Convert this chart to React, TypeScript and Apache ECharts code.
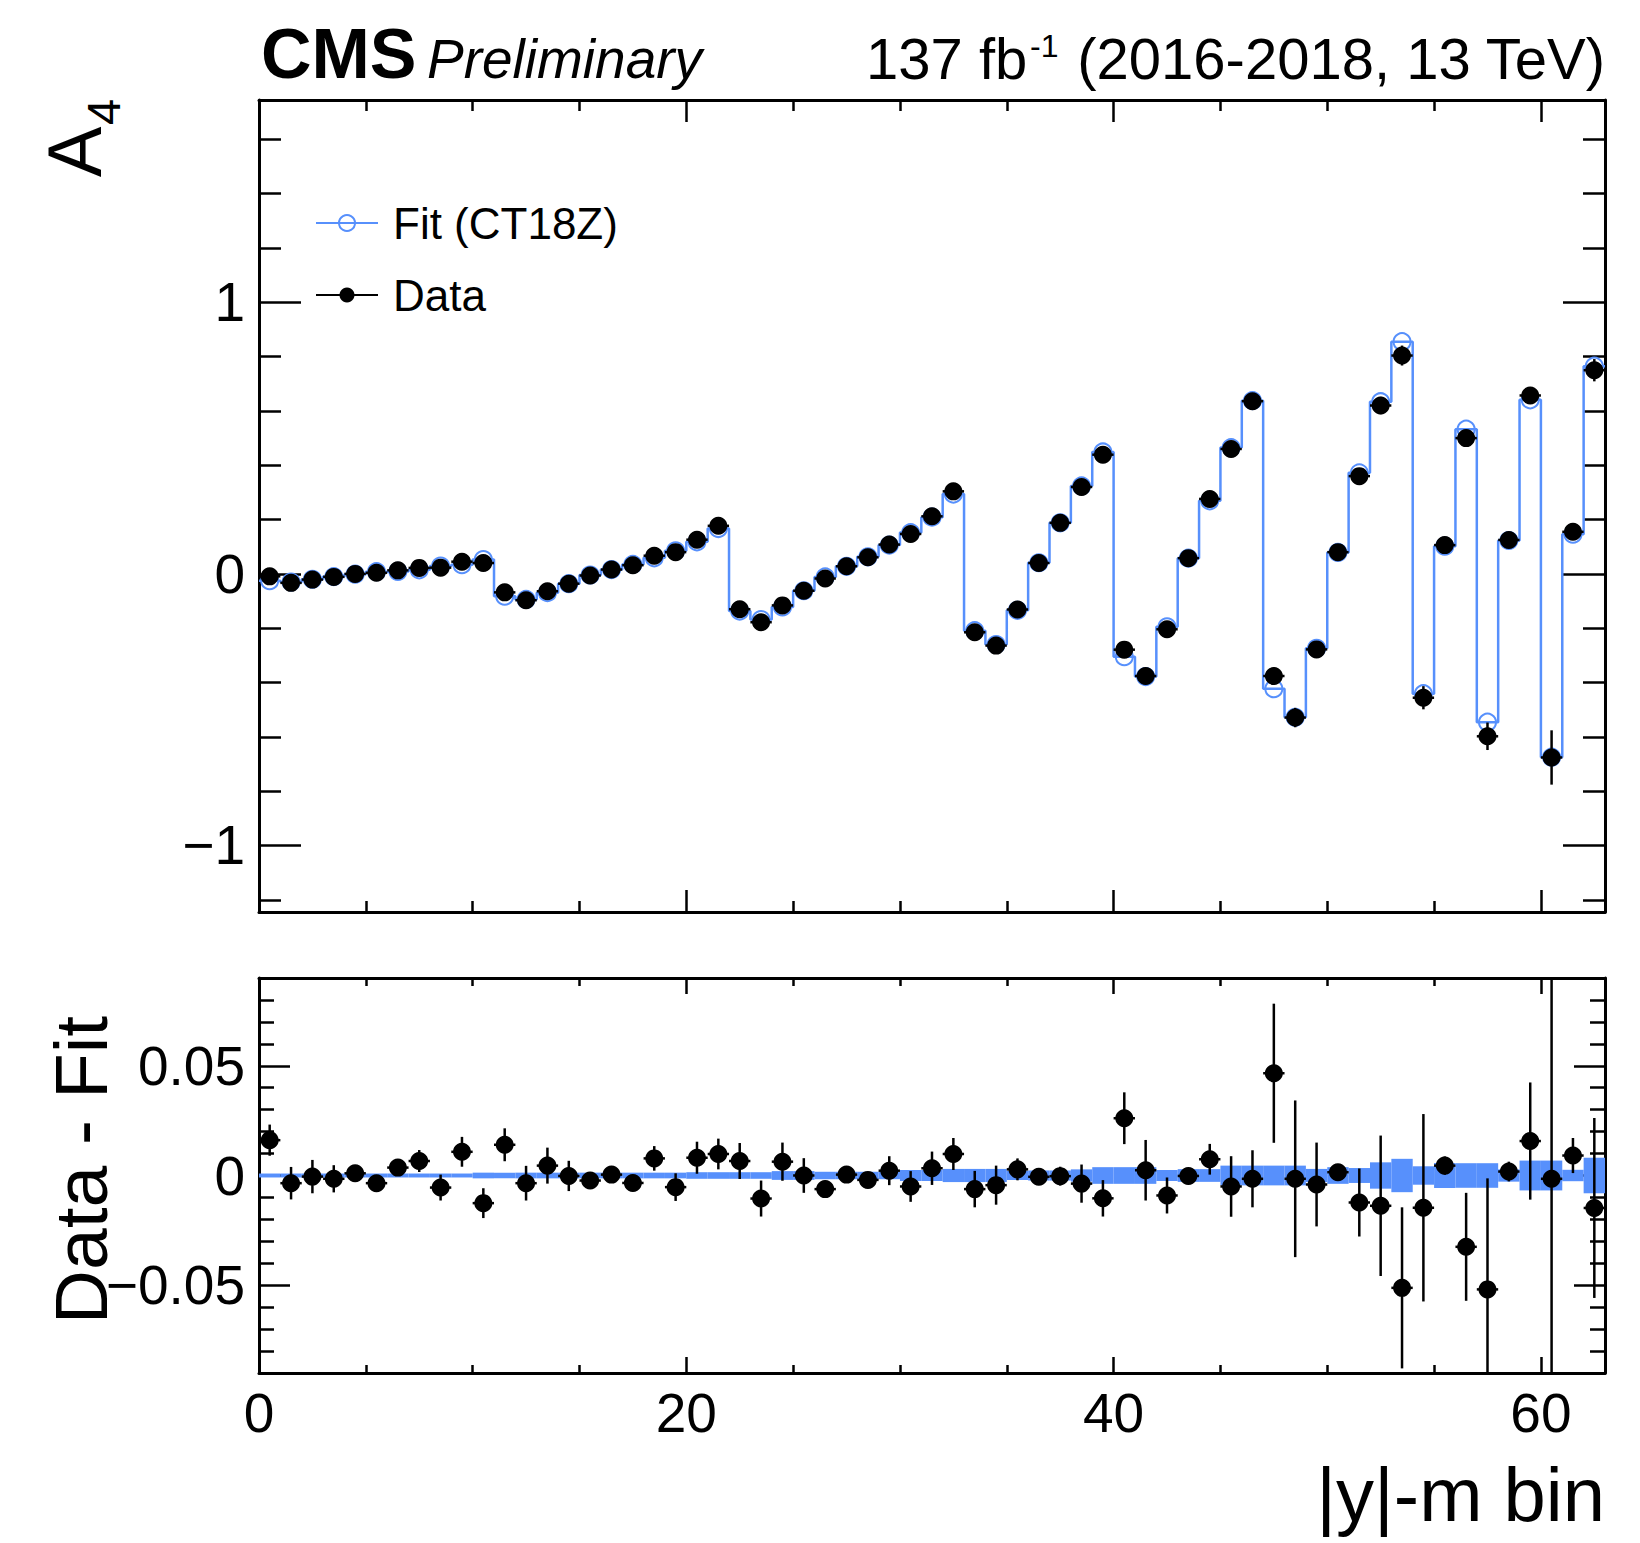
import React, { useEffect, useRef } from "react";
import * as echarts from "echarts";

// ---------- data ----------
// A4 measured per |y|-m bin (bins 0..62)
const a4Data = [
  -0.009, -0.033, -0.021, -0.011, 0.0, 0.004, 0.013, 0.022, 0.023, 0.045,
  0.04, -0.068, -0.097, -0.064, -0.036, -0.006, 0.016, 0.032, 0.067, 0.08,
  0.126, 0.177, -0.13, -0.178, -0.116, -0.062, -0.017, 0.028, 0.061, 0.108,
  0.147, 0.212, 0.304, -0.215, -0.264, -0.131, 0.04, 0.188, 0.32, 0.439,
  -0.279, -0.376, -0.204, 0.058, 0.276, 0.46, 0.636, -0.376, -0.529, -0.278,
  0.08, 0.36, 0.62, 0.804, -0.456, 0.106, 0.5, -0.598, 0.125, 0.657,
  -0.676, 0.155, 0.75,
];
// A4 fit (CT18Z) per bin
const a4Fit = [
  -0.025, -0.03, -0.02, -0.01, -0.001, 0.008, 0.009, 0.015, 0.029, 0.034,
  0.053, -0.082, -0.094, -0.069, -0.036, -0.004, 0.016, 0.035, 0.059, 0.085,
  0.118, 0.167, -0.137, -0.168, -0.122, -0.062, -0.011, 0.028, 0.063, 0.106,
  0.152, 0.209, 0.294, -0.209, -0.26, -0.134, 0.041, 0.188, 0.324, 0.449,
  -0.305, -0.378, -0.195, 0.058, 0.269, 0.465, 0.638, -0.423, -0.528, -0.274,
  0.079, 0.372, 0.634, 0.855, -0.441, 0.102, 0.533, -0.546, 0.123, 0.641,
  -0.675, 0.146, 0.765,
];
// statistical uncertainty of data per bin
const a4Err = [
  0.0071, 0.0074, 0.0076, 0.0062, 0.003, 0.003, 0.0033, 0.005, 0.0059, 0.0068,
  0.0068, 0.0075, 0.0079, 0.0082, 0.0069, 0.0034, 0.003, 0.003, 0.0056, 0.0063,
  0.0073, 0.007, 0.0082, 0.0082, 0.0087, 0.0079, 0.0038, 0.002, 0.003, 0.0066,
  0.007, 0.0076, 0.0073, 0.0083, 0.0089, 0.005, 0.002, 0.0043, 0.0087, 0.0083,
  0.0118, 0.0138, 0.0082, 0.002, 0.007, 0.0138, 0.013, 0.0317, 0.0357, 0.0191,
  0.002, 0.0155, 0.032, 0.0367, 0.0427, 0.0042, 0.0246, 0.0506, 0.0045, 0.0267,
  0.1, 0.008, 0.041,
];
// Data - Fit per bin
const residData = [
  0.0161, -0.0035, -0.0005, -0.0015, 0.001, -0.0035, 0.0036, 0.0066, -0.0055, 0.0108,
  -0.0126, 0.014, -0.0035, 0.0045, -0.0002, -0.0023, 0.0004, -0.0034, 0.0078, -0.0053,
  0.0081, 0.0098, 0.0066, -0.0105, 0.0063, 0.0, -0.0062, 0.0004, -0.002, 0.0022,
  -0.005, 0.0033, 0.0098, -0.0062, -0.0044, 0.0028, -0.0006, -0.0003, -0.0037, -0.0104,
  0.0261, 0.0024, -0.0091, -0.0002, 0.0074, -0.005, -0.0015, 0.0466, -0.0015, -0.0041,
  0.0015, -0.0123, -0.0138, -0.0512, -0.0147, 0.0045, -0.0325, -0.0519, 0.0018, 0.0157,
  -0.0015, 0.0091, -0.0148,
];
// half width of the fit uncertainty band in the ratio panel
const fitBandHalf = [
  0.0009, 0.0009, 0.0009, 0.0009, 0.0009, 0.0009, 0.0009, 0.0009, 0.0009, 0.0009,
  0.0013, 0.0013, 0.0013, 0.0013, 0.0013, 0.0013, 0.0013, 0.0013, 0.0013, 0.0013,
  0.0015, 0.0015, 0.0015, 0.0015, 0.002, 0.002, 0.0017, 0.0017, 0.0017, 0.0017,
  0.0025, 0.0025, 0.003, 0.003, 0.003, 0.0021, 0.0023, 0.0023, 0.0028, 0.0038,
  0.0038, 0.0038, 0.0025, 0.0029, 0.0029, 0.0045, 0.0045, 0.0045, 0.0045, 0.003,
  0.0038, 0.0034, 0.006, 0.0076, 0.0042, 0.0057, 0.0056, 0.0056, 0.0028, 0.0068,
  0.0068, 0.0026, 0.0081,
];

// ticks
const xMajorTicks = [0, 20, 40, 60];
const xMinorTicks = [5, 10, 15, 25, 30, 35, 45, 50, 55];
const topYMajorTicks = [-1, 0, 1];
const topYMinorTicks = [-1.2, -0.8, -0.6, -0.4, -0.2, 0.2, 0.4, 0.6, 0.8, 1.2, 1.4, 1.6];
const botYMajorTicks = [-0.05, 0, 0.05];
const botYMinorTicks = [
  -0.08, -0.07, -0.06, -0.04, -0.03, -0.02, -0.01, 0.01, 0.02, 0.03, 0.04, 0.06, 0.07, 0.08,
];

const X_RANGE = [0, 63];
const TOP_Y_RANGE = [-1.245, 1.745];
const BOT_Y_RANGE = [-0.09, 0.09];

const BLUE = "#5790fc";
const FONT = "'Liberation Sans', Arial, Helvetica, sans-serif";

const fmt = (v: any) => {
  const n = Number(v);
  if (Math.abs(n) < 1e-12) return "0";
  return n < 0 ? "\u2212" + String(Math.abs(n)) : String(n);
};

function mkAxis(
  gridIndex: number,
  position: string,
  range: number[],
  ticks: number[],
  len: number,
  showLine: boolean,
  labels: boolean,
  labelMargin = 14
) {
  return {
    type: "value",
    gridIndex,
    position,
    min: range[0],
    max: range[1],
    axisLine: { show: showLine, onZero: false, lineStyle: { color: "#000", width: 3 } },
    axisTick: {
      show: true,
      inside: true,
      length: len,
      customValues: ticks,
      lineStyle: { color: "#000", width: 2.5 },
    },
    axisLabel: labels
      ? {
          show: true,
          customValues: ticks,
          formatter: fmt,
          fontSize: 55,
          fontFamily: FONT,
          color: "#000",
          margin: labelMargin,
        }
      : { show: false },
    splitLine: { show: false },
    minorTick: { show: false },
    minorSplitLine: { show: false },
  };
}

function errorBarRenderer(yRange: number[]) {
  return (params: any, api: any) => {
    const i = api.value(0);
    const v = api.value(1);
    const e = api.value(2);
    const lo = Math.max(v - e, yRange[0]);
    const hi = Math.min(v + e, yRange[1]);
    const pLo = api.coord([i + 0.5, lo]);
    const pHi = api.coord([i + 0.5, hi]);
    const pL = api.coord([i, v]);
    const pR = api.coord([i + 1, v]);
    return {
      type: "group",
      children: [
        {
          type: "line",
          shape: { x1: pLo[0], y1: pLo[1], x2: pHi[0], y2: pHi[1] },
          style: { stroke: "#000", lineWidth: 2.5 },
        },
        {
          type: "line",
          shape: { x1: pL[0], y1: pL[1], x2: pR[0], y2: pR[1] },
          style: { stroke: "#000", lineWidth: 2.5 },
        },
      ],
    };
  };
}

function txt(
  text: string,
  x: number,
  y: number,
  size: number,
  align: string,
  extra: any = {},
  rotation = 0
) {
  return {
    type: "text",
    x,
    y,
    rotation,
    z: 100,
    style: {
      text,
      fill: "#000",
      fontSize: size,
      fontFamily: FONT,
      fontWeight: extra.fontWeight || "normal",
      fontStyle: extra.fontStyle || "normal",
      align,
      verticalAlign: "middle",
      textAlign: align,
      textVerticalAlign: "middle",
    },
  };
}

export default function App() {
  const ref = useRef<HTMLDivElement>(null);

  useEffect(() => {
    if (!ref.current) return;
    const chart = echarts.init(ref.current, undefined, { renderer: "svg" });

    const fitSteps = a4Fit.map((v, i) => [i, v]);
    fitSteps.push([a4Fit.length, a4Fit[a4Fit.length - 1]]);
    const fitMarkers = a4Fit.map((v, i) => [i + 0.5, v]);
    const dataPts = a4Data.map((v, i) => [i + 0.5, v]);
    const dataErr = a4Data.map((v, i) => [i, v, a4Err[i]]);
    const residPts = residData.map((v, i) => [i + 0.5, v]);
    const residErr = residData.map((v, i) => [i, v, a4Err[i]]);
    const band = fitBandHalf.map((h, i) => [i, h]);

    const option: any = {
      animation: false,
      backgroundColor: "#fff",
      grid: [
        { left: 259, top: 100, width: 1346, height: 812, containLabel: false, outerBoundsMode: "none" },
        { left: 259, top: 978, width: 1346, height: 395, containLabel: false, outerBoundsMode: "none" },
      ],
      xAxis: [
        mkAxis(0, "bottom", X_RANGE, xMajorTicks, 22, true, false),
        mkAxis(0, "bottom", X_RANGE, xMinorTicks, 11, false, false),
        mkAxis(0, "top", X_RANGE, xMajorTicks, 22, true, false),
        mkAxis(0, "top", X_RANGE, xMinorTicks, 11, false, false),
        mkAxis(1, "bottom", X_RANGE, xMajorTicks, 16, true, true, 12),
        mkAxis(1, "bottom", X_RANGE, xMinorTicks, 8, false, false),
        mkAxis(1, "top", X_RANGE, xMajorTicks, 16, true, false),
        mkAxis(1, "top", X_RANGE, xMinorTicks, 8, false, false),
      ],
      yAxis: [
        mkAxis(0, "left", TOP_Y_RANGE, topYMajorTicks, 42, true, true, 14),
        mkAxis(0, "left", TOP_Y_RANGE, topYMinorTicks, 22, false, false),
        mkAxis(0, "right", TOP_Y_RANGE, topYMajorTicks, 42, true, false),
        mkAxis(0, "right", TOP_Y_RANGE, topYMinorTicks, 22, false, false),
        mkAxis(1, "left", BOT_Y_RANGE, botYMajorTicks, 31, true, true, 14),
        mkAxis(1, "left", BOT_Y_RANGE, botYMinorTicks, 15, false, false),
        mkAxis(1, "right", BOT_Y_RANGE, botYMajorTicks, 31, true, false),
        mkAxis(1, "right", BOT_Y_RANGE, botYMinorTicks, 15, false, false),
      ],
      series: [
        {
          name: "Fit (CT18Z)",
          type: "line",
          xAxisIndex: 0,
          yAxisIndex: 0,
          step: "end",
          showSymbol: false,
          symbol: "none",
          data: fitSteps,
          lineStyle: { color: BLUE, width: 2.5, opacity: 1 },
          z: 2,
        },
        {
          name: "Fit markers",
          type: "scatter",
          xAxisIndex: 0,
          yAxisIndex: 0,
          symbol: "circle",
          symbolSize: 17,
          data: fitMarkers,
          itemStyle: { color: "rgba(0,0,0,0)", borderColor: BLUE, borderWidth: 2, opacity: 1 },
          z: 3,
        },
        {
          name: "Data errors",
          type: "custom",
          xAxisIndex: 0,
          yAxisIndex: 0,
          data: dataErr,
          encode: { x: 0, y: 1 },
          renderItem: errorBarRenderer(TOP_Y_RANGE),
          z: 4,
        },
        {
          name: "Data",
          type: "scatter",
          xAxisIndex: 0,
          yAxisIndex: 0,
          symbol: "circle",
          symbolSize: 18,
          data: dataPts,
          itemStyle: { color: "#000", opacity: 1 },
          z: 5,
        },
        {
          name: "Fit band",
          type: "custom",
          xAxisIndex: 4,
          yAxisIndex: 4,
          data: band,
          encode: { x: 0, y: 1 },
          renderItem: (params: any, api: any) => {
            const i = api.value(0);
            const h = api.value(1);
            const p1 = api.coord([i, h]);
            const p2 = api.coord([i + 1, -h]);
            return {
              type: "rect",
              shape: { x: p1[0], y: p1[1], width: p2[0] - p1[0], height: p2[1] - p1[1] },
              style: { fill: BLUE },
            };
          },
          z: 2,
        },
        {
          name: "Residual errors",
          type: "custom",
          xAxisIndex: 4,
          yAxisIndex: 4,
          data: residErr,
          encode: { x: 0, y: 1 },
          renderItem: errorBarRenderer(BOT_Y_RANGE),
          z: 4,
        },
        {
          name: "Data - Fit",
          type: "scatter",
          xAxisIndex: 4,
          yAxisIndex: 4,
          symbol: "circle",
          symbolSize: 18,
          data: residPts,
          itemStyle: { color: "#000", opacity: 1 },
          z: 5,
        },
      ],
      graphic: [
        txt("CMS", 261, 54, 70, "left", { fontWeight: "bold" }),
        txt("Preliminary", 427, 59, 55, "left", { fontStyle: "italic" }),
        txt("137 fb", 866, 58, 58, "left"),
        txt("-1", 1030, 46, 32, "left"),
        txt("(2016-2018, 13 TeV)", 1605, 58, 58, "right"),
        txt("A", 74, 152, 76, "center", {}, Math.PI / 2),
        txt("4", 103, 112, 47, "center", {}, Math.PI / 2),
        txt("Data - Fit", 81, 1170, 75, "center", {}, Math.PI / 2),
        txt("|y|-m bin", 1605, 1494, 76, "right"),
        // legend
        {
          type: "line",
          shape: { x1: 316, y1: 223, x2: 378, y2: 223 },
          style: { stroke: BLUE, lineWidth: 2 },
          z: 100,
        },
        {
          type: "circle",
          shape: { cx: 347, cy: 223, r: 8 },
          style: { fill: "rgba(0,0,0,0)", stroke: BLUE, lineWidth: 2 },
          z: 101,
        },
        txt("Fit (CT18Z)", 393, 223, 44, "left"),
        {
          type: "line",
          shape: { x1: 316, y1: 295, x2: 378, y2: 295 },
          style: { stroke: "#000", lineWidth: 2 },
          z: 100,
        },
        {
          type: "circle",
          shape: { cx: 347, cy: 295, r: 7.5 },
          style: { fill: "#000" },
          z: 101,
        },
        txt("Data", 393, 295, 44, "left"),
      ],
    };

    chart.setOption(option);
    return () => chart.dispose();
  }, []);

  return (
    <div
      ref={ref}
      style={{ position: "absolute", left: 0, top: 0, width: 1640, height: 1543, background: "#fff" }}
    />
  );
}
